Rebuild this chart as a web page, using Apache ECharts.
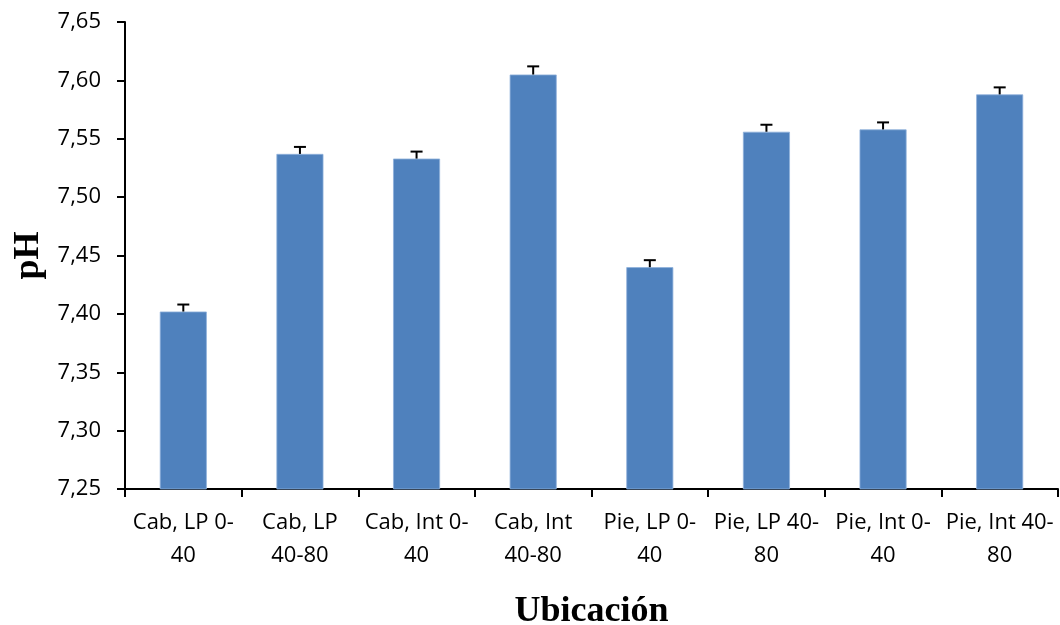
<!DOCTYPE html>
<html><head><meta charset="utf-8">
<script src="https://cdn.jsdelivr.net/npm/echarts@6/dist/echarts.min.js"></script>
<style>html,body{margin:0;padding:0;background:#fff}#c{width:1060px;height:625px}</style>
</head><body><div id="c"></div>
<script>
var categories = ["Cab, LP 0-\n40", "Cab, LP\n40-80", "Cab, Int 0-\n40", "Cab, Int\n40-80", "Pie, LP 0-\n40", "Pie, LP 40-\n80", "Pie, Int 0-\n40", "Pie, Int 40-\n80"];
var phValues = [7.402, 7.537, 7.533, 7.605, 7.440, 7.556, 7.558, 7.588];
var phErrors = [0.006, 0.006, 0.006, 0.007, 0.006, 0.006, 0.006, 0.006];
var yMin = 7.25, yMax = 7.65, yStep = 0.05;

var chart = echarts.init(document.getElementById('c'));
var errData = phValues.map(function (v, i) { return [i, v, v + phErrors[i]]; });
chart.setOption({
  animation: false,
  backgroundColor: '#fff',
  grid: { left: 125, right: 2, top: 22, bottom: 136, containLabel: false, outerBoundsMode: 'none' },
  xAxis: {
    type: 'category', data: categories,
    name: 'Ubicación', nameLocation: 'middle', nameGap: 105,
    nameTextStyle: { fontFamily: 'Liberation Serif', fontWeight: 'bold', fontSize: 36, color: '#000' },
    axisLine: { lineStyle: { color: '#000', width: 2 } },
    axisTick: { show: true, alignWithLabel: false, length: 8, lineStyle: { color: '#000', width: 2 } },
    axisLabel: { interval: 0, color: '#000', fontFamily: 'Open Sans', fontSize: 22, lineHeight: 33, margin: 17 }
  },
  yAxis: {
    type: 'value', min: yMin, max: yMax, interval: yStep,
    name: 'pH', nameLocation: 'middle', nameGap: 78,
    nameTextStyle: { fontFamily: 'Liberation Serif', fontWeight: 'bold', fontSize: 36, color: '#000' },
    axisLine: { show: true, lineStyle: { color: '#000', width: 2 } },
    axisTick: { show: true, length: 8, lineStyle: { color: '#000', width: 2 } },
    splitLine: { show: false },
    axisLabel: { color: '#000', fontFamily: 'Open Sans', fontSize: 22, margin: 24,
      formatter: function (v) { return v.toFixed(2).replace('.', ','); } }
  },
  series: [
    { type: 'bar', data: phValues, barWidth: 47,
      itemStyle: { color: '#4F81BD', borderColor: '#8EB0DA', borderWidth: 0.8 } },
    { type: 'custom', data: errData, z: 5,
      renderItem: function (params, api) {
        var i = api.value(0);
        var base = api.coord([i, api.value(1)]);
        var top = api.coord([i, api.value(2)]);
        var hw = 6;
        return { type: 'group', children: [
          { type: 'line', shape: { x1: base[0], y1: base[1], x2: top[0], y2: top[1] }, style: { stroke: '#000', lineWidth: 2 } },
          { type: 'line', shape: { x1: top[0] - hw, y1: top[1], x2: top[0] + hw, y2: top[1] }, style: { stroke: '#000', lineWidth: 2 } }
        ] };
      }
    }
  ]
});
</script></body></html>
